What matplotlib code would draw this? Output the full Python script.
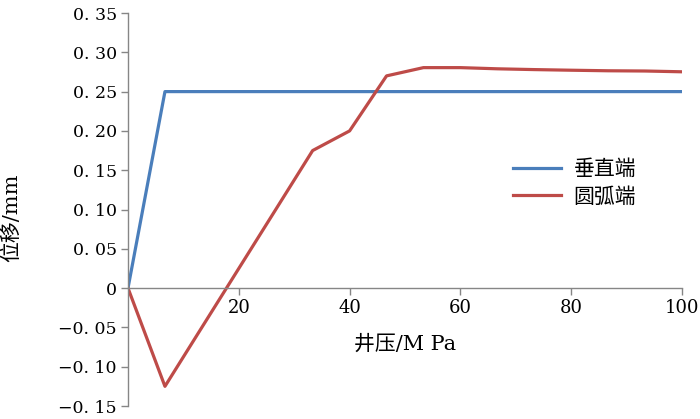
import matplotlib
matplotlib.use("Agg")
import matplotlib.pyplot as plt

# data
pressure = [0, 6.67, 13.33, 20, 26.67, 33.33, 40, 46.67, 53.33, 60, 66.67, 73.33, 80, 86.67, 93.33, 100]
vertical = [0, 0.25, 0.25, 0.25, 0.25, 0.25, 0.25, 0.25, 0.25, 0.25, 0.25, 0.25, 0.25, 0.25, 0.25, 0.25]
arc = [0, -0.125, -0.05, 0.025, 0.10, 0.175, 0.20, 0.27, 0.2805, 0.2805, 0.279, 0.278, 0.2772, 0.2765, 0.2762, 0.2752]
series_names = ["垂直端", "圆弧端"]
x_ticks = [20, 40, 60, 80, 100]
x_tick_labels = ["20", "40", "60", "80", "100"]
y_ticks = [-0.15, -0.10, -0.05, 0, 0.05, 0.10, 0.15, 0.20, 0.25, 0.30, 0.35]
y_tick_labels = ["−0. 15", "−0. 10", "−0. 05", "0", "0. 05", "0. 10", "0. 15", "0. 20", "0. 25", "0. 30", "0. 35"]
x_label = "井压/M Pa"
y_label = "位移/mm"

mixed = ["DejaVu Serif", "Noto Sans CJK SC"]
cjk = ["Noto Sans CJK SC", "DejaVu Sans"]
num_font = ["DejaVu Serif"]

fig = plt.figure(figsize=(7.0, 4.19), dpi=100)
top_px, bot_px = 13, 406
ax = fig.add_axes([128/700, (419-bot_px)/419, (682-128)/700, (bot_px-top_px)/419])

ax.plot(pressure, vertical, color="#4a7ebb", lw=2.3, label=series_names[0])
ax.plot(pressure, arc, color="#be4b48", lw=2.3, label=series_names[1])

ax.set_xlim(0, 100)
ax.set_ylim(-0.15, 0.35)
ax.spines["top"].set_visible(False)
ax.spines["right"].set_visible(False)
ax.spines["bottom"].set_position(("data", 0))
for s in ("left", "bottom"):
    ax.spines[s].set_color("#868686")
    ax.spines[s].set_linewidth(1.0)

ax.set_xticks(x_ticks)
ax.set_xticklabels(x_tick_labels, fontfamily=num_font, fontsize=13)
ax.set_yticks(y_ticks)
ax.set_yticklabels(y_tick_labels, fontfamily=num_font, fontsize=12.5)
ax.tick_params(axis="both", direction="out", length=5, width=1.0, color="#868686", pad=3)

h = bot_px - top_px
ax.text(0.5, (bot_px-344)/h, x_label, transform=ax.transAxes, ha="center", va="center",
        fontsize=15, family=mixed)
fig.text(11/700, 1-218/419, y_label, rotation=90, ha="center", va="center",
         fontsize=15, family=mixed)

leg = ax.legend(loc="upper left", bbox_to_anchor=((505-128)/554, 1-(150-top_px)/h),
                frameon=False, prop={"family": cjk, "size": 15},
                handlelength=2.3, handletextpad=0.6, labelspacing=0.25, borderaxespad=0)

fig.savefig("out.png", dpi=100)
